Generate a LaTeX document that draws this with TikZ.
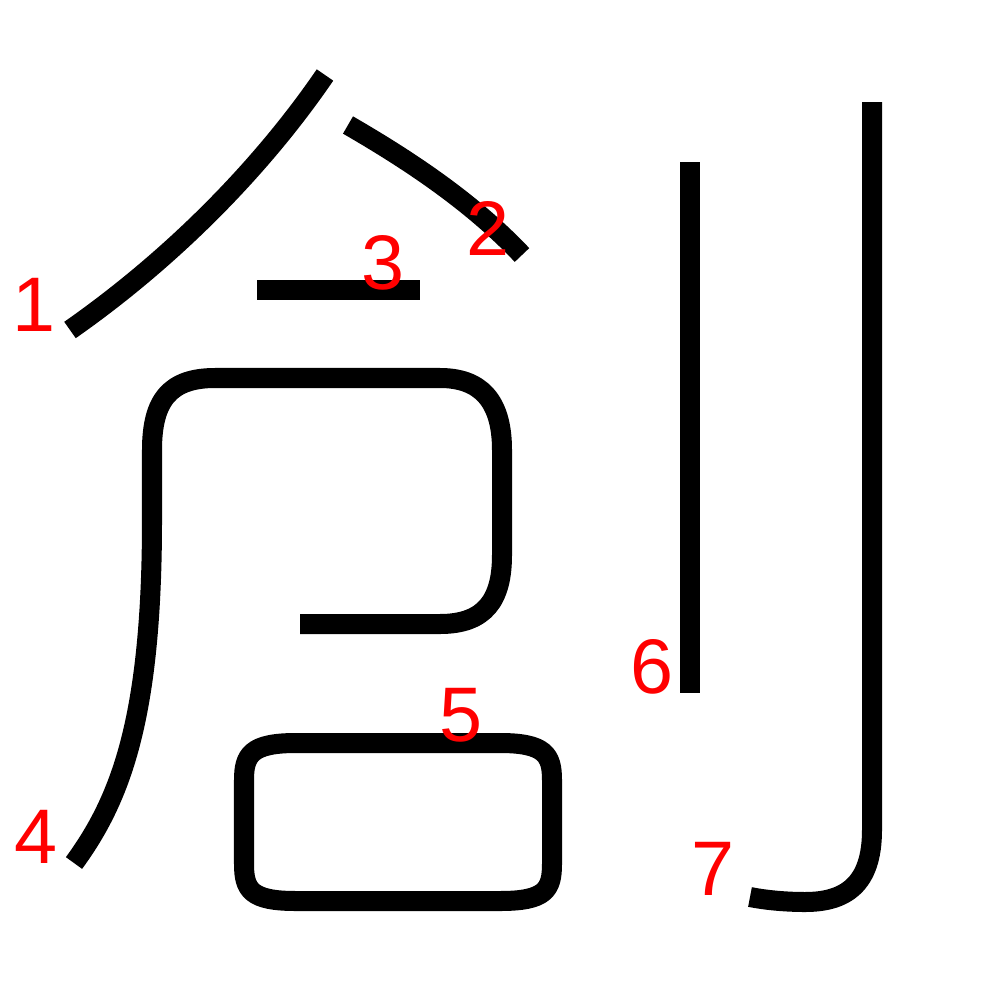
\documentclass[tikz,border=0pt]{standalone}
\usepackage{fontspec}
\setmainfont{Liberation Sans}
\tikzset{
  stroke/.style={line width=0.2cm, draw=black, line join=round},
  num/.style={text=red, inner sep=0pt, font=\fontsize{22}{22}\selectfont}
}
\begin{document}
\begin{tikzpicture}[x=0.01cm, y=-0.01cm]
    \useasboundingbox (0,0) rectangle (1000,1000);
    % stroke end points
    \node[coordinate] (A1) at (325,75) {};
    \node[coordinate] (B1) at (70,330) {};
    \node[coordinate] (A2) at (348,125) {};
    \node[coordinate] (B2) at (522,255) {};
    \node[coordinate] (A3) at (257,290) {};
    \node[coordinate] (B3) at (420,290) {};
    \node[coordinate] (A4) at (300,624) {};
    \node[coordinate] (B4) at (74,863) {};
    \node[coordinate] (A5) at (296,743) {};
    \node[coordinate] (A6) at (690,162) {};
    \node[coordinate] (B6) at (690,693) {};
    \node[coordinate] (A7) at (872,102) {};
    \node[coordinate] (B7) at (750,897) {};
    %
    \draw[stroke] (A1) .. controls (260,170) and (170,260) .. (B1);
    \draw[stroke] (A2) .. controls (405,158) and (470,200) .. (B2);
    \draw[stroke] (A3) -- (B3);
    \draw[stroke] (A4) -- (440,624) .. controls (485,624) and (502,600) .. (502,555)
      -- (502,450) .. controls (502,400) and (480,378) .. (440,378)
      -- (215,378) .. controls (170,378) and (152,400) .. (152,450)
      -- (152,520) .. controls (152,720) and (120,800) .. (B4);
    \draw[stroke] (A5) -- (500,743) .. controls (545,743) and (552,755) .. (552,780)
      -- (552,864) .. controls (552,890) and (545,901) .. (500,901)
      -- (296,901) .. controls (251,901) and (244,890) .. (244,864)
      -- (244,780) .. controls (244,755) and (251,743) .. (A5) -- cycle;
    \draw[stroke] (A6) -- (B6);
    \draw[stroke] (A7) -- (872,830) .. controls (872,885) and (845,902) .. (805,902)
      .. controls (785,902) and (765,900) .. (B7);
    %
    \node[num] (n1) at (34,305) {1};
    \node[num] (n2) at (488,228) {2};
    \node[num] (n3) at (383,263) {3};
    \node[num] (n4) at (36,837) {4};
    \node[num] (n5) at (461,715) {5};
    \node[num] (n6) at (652,667) {6};
    \node[num] (n7) at (713,869) {7};
\end{tikzpicture}
\end{document}
